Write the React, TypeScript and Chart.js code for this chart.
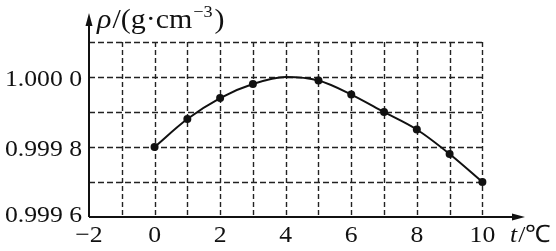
import React, { useEffect, useRef } from "react";
import { Chart, registerables } from "chart.js";

Chart.register(...registerables);

const temps = [0, 1, 2, 3, 4, 5, 6, 7, 8, 9, 10];
const density = [0.9998, 0.99988, 0.99994, 0.99998, 1.0, 0.99999, 0.99995, 0.9999, 0.99985, 0.99978, 0.9997];
const markerShown = [true, true, true, true, false, true, true, true, true, true, true];
const xTickValues = [-2, 0, 2, 4, 6, 8, 10];
const xTickLabels = ["\u22122", "0", "2", "4", "6", "8", "10"];
const xGridValues = [-1, 0, 1, 2, 3, 4, 5, 6, 7, 8, 9, 10];
const yTickValues = [0.9996, 0.9998, 1.0];
const yTickLabels = ["0.999 6", "0.999 8", "1.000 0"];
const yGridValues = [0.9997, 0.9998, 0.9999, 1.0, 1.0001];

const FONT = '"Liberation Serif", "Times New Roman", serif';
const SX = 1.07;

function txt(ctx: CanvasRenderingContext2D, s: string, x: number, y: number, font: string, align: CanvasTextAlign) {
  ctx.save();
  ctx.font = font;
  ctx.textAlign = align;
  ctx.textBaseline = "alphabetic";
  ctx.translate(x, y);
  ctx.scale(SX, 1);
  ctx.fillText(s, 0, 0);
  const w = ctx.measureText(s).width * SX;
  ctx.restore();
  return w;
}

const overlay = {
  id: "overlay",
  beforeDatasetsDraw(chart: any) {
    const ctx = chart.ctx as CanvasRenderingContext2D;
    const xs = chart.scales.x;
    const ys = chart.scales.y;
    const X = (v: number) => xs.getPixelForValue(v);
    const Y = (v: number) => ys.getPixelForValue(v);
    const x0 = X(-2);
    const y0 = Y(0.9996);
    const xEnd = X(10);
    const yTop = Y(1.0001);
    ctx.save();
    // grid
    ctx.strokeStyle = "#222";
    ctx.lineWidth = 1.4;
    ctx.setLineDash([6, 3]);
    for (const v of yGridValues) {
      const py = Math.round(Y(v)) + 0.5;
      ctx.beginPath();
      ctx.moveTo(x0, py);
      ctx.lineTo(xEnd, py);
      ctx.stroke();
    }
    ctx.setLineDash([5, 3]);
    for (const v of xGridValues) {
      const px = Math.round(X(v)) + 0.5;
      ctx.beginPath();
      ctx.moveTo(px, yTop);
      ctx.lineTo(px, y0);
      ctx.stroke();
    }
    ctx.setLineDash([]);
    // axes
    const area = chart.chartArea;
    ctx.strokeStyle = "#111";
    ctx.fillStyle = "#111";
    ctx.lineWidth = 2;
    ctx.beginPath();
    ctx.moveTo(x0, y0);
    ctx.lineTo(area.right - 8, y0);
    ctx.stroke();
    ctx.beginPath();
    ctx.moveTo(x0, y0);
    ctx.lineTo(x0, area.top + 8);
    ctx.stroke();
    // arrows
    ctx.beginPath();
    ctx.moveTo(area.right, y0);
    ctx.lineTo(area.right - 13, y0 - 3.5);
    ctx.lineTo(area.right - 13, y0 + 3.5);
    ctx.closePath();
    ctx.fill();
    ctx.beginPath();
    ctx.moveTo(x0, area.top);
    ctx.lineTo(x0 - 3.5, area.top + 13);
    ctx.lineTo(x0 + 3.5, area.top + 13);
    ctx.closePath();
    ctx.fill();
    // tick labels
    const tickFont = `24px ${FONT}`;
    yTickValues.forEach((v, i) => {
      const off = i === 0 ? 5 : 8.5;
      txt(ctx, yTickLabels[i], x0 - 7, Y(v) + off, tickFont, "right");
    });
    xTickValues.forEach((v, i) => {
      txt(ctx, xTickLabels[i], X(v), y0 + 25, tickFont, "center");
    });
    // x title
    let tx = 510;
    tx += txt(ctx, "t", tx, y0 + 25, `italic 24px ${FONT}`, "left") + 1;
    txt(ctx, "/\u2103", tx, y0 + 25, `24px ${FONT}`, "left");
    // y title
    let ty = 97;
    const base = 28;
    ty += txt(ctx, "\u03c1", ty, base, `italic 28px ${FONT}`, "left") + 1;
    ty += txt(ctx, "/(g\u00b7cm", ty, base, `28px ${FONT}`, "left") + 1;
    ty += txt(ctx, "\u22123", ty, base - 11, `17px ${FONT}`, "left") + 2;
    txt(ctx, ")", ty, base, `28px ${FONT}`, "left");
    ctx.restore();
  },
};

export default function App() {
  const ref = useRef<HTMLCanvasElement | null>(null);
  useEffect(() => {
    if (!ref.current) return;
    const chart = new Chart(ref.current, {
      type: "scatter",
      data: {
        datasets: [
          {
            data: temps.map((t, i) => ({ x: t, y: density[i] })),
            showLine: true,
            borderColor: "#111",
            borderWidth: 2,
            tension: 0.4,
            cubicInterpolationMode: "monotone",
            pointRadius: markerShown.map((m) => (m ? 4 : 0)),
            pointBackgroundColor: "#111",
            pointBorderColor: "#111",
            pointBorderWidth: 0,
          } as any,
        ],
      },
      options: {
        animation: false,
        responsive: false,
        devicePixelRatio: 1,
        layout: { padding: { left: 89, right: 31, top: 13, bottom: 34 } },
        plugins: { legend: { display: false }, tooltip: { enabled: false } },
        scales: {
          x: { type: "linear", min: -2, max: 11.3, display: false },
          y: { type: "linear", min: 0.9996, max: 1.000183, display: false },
        },
      },
      plugins: [overlay],
    });
    return () => chart.destroy();
  }, []);
  return (
    <div style={{ position: "absolute", left: 0, top: 0, width: 556, height: 251, background: "#fff" }}>
      <canvas ref={ref} width={556} height={251} style={{ display: "block" }} />
    </div>
  );
}
